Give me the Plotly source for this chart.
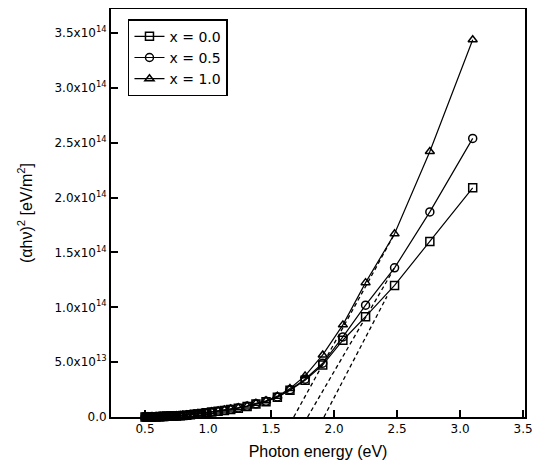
import plotly.graph_objects as go

# Photon energy (eV)
energy = [3.10, 2.76, 2.48, 2.25, 2.07, 1.91, 1.77, 1.65, 1.55, 1.46,
          1.38, 1.31, 1.24, 1.18, 1.13, 1.08, 1.03, 0.99, 0.95, 0.92,
          0.89, 0.86, 0.83, 0.80, 0.78, 0.75, 0.73, 0.71, 0.69, 0.67,
          0.65, 0.64, 0.62, 0.61, 0.59, 0.58, 0.56, 0.55, 0.54, 0.53,
          0.52, 0.51, 0.50]

# (alpha h nu)^2 in units of 1e14 eV/m^2
y_x00 = [2.09, 1.60, 1.20, 0.915, 0.70, 0.475, 0.335, 0.245, 0.18, 0.14,
         0.118, 0.095, 0.080, 0.068, 0.060, 0.052, 0.045, 0.038, 0.032, 0.028,
         0.024, 0.020, 0.017, 0.014, 0.012, 0.010, 0.009, 0.008, 0.007, 0.006,
         0.005, 0.004, 0.004, 0.003, 0.003, 0.002, 0.002, 0.002, 0.001, 0.001,
         0.001, 0.001, 0.000]
y_x05 = [2.54, 1.87, 1.36, 1.02, 0.73, 0.49, 0.345, 0.248, 0.183, 0.143,
         0.120, 0.097, 0.082, 0.070, 0.062, 0.053, 0.046, 0.039, 0.033, 0.028,
         0.024, 0.020, 0.017, 0.014, 0.012, 0.010, 0.009, 0.008, 0.007, 0.006,
         0.005, 0.004, 0.004, 0.003, 0.003, 0.002, 0.002, 0.002, 0.001, 0.001,
         0.001, 0.001, 0.000]
y_x10 = [3.44, 2.42, 1.67, 1.225, 0.84, 0.566, 0.375, 0.26, 0.19, 0.148,
         0.125, 0.100, 0.085, 0.073, 0.064, 0.055, 0.047, 0.040, 0.034, 0.029,
         0.025, 0.021, 0.018, 0.015, 0.013, 0.011, 0.009, 0.008, 0.007, 0.006,
         0.005, 0.004, 0.004, 0.003, 0.003, 0.002, 0.002, 0.002, 0.001, 0.001,
         0.001, 0.001, 0.000]

series_names = ["x = 0.0", "x = 0.5", "x = 1.0"]
series_symbols = ["square-open", "circle-open", "triangle-up-open"]

# Linear extrapolation (tangent) lines
tan_x10_x = [1.68, 2.48]
tan_x10_y = [0.0, 1.67]
tan_x05_x = [1.79, 2.48]
tan_x05_y = [0.0, 1.36]
tan_x00_x = [1.92, 2.42]
tan_x00_y = [0.0, 1.10]

y_tickvals = [0, 0.5, 1.0, 1.5, 2.0, 2.5, 3.0, 3.5]
y_ticktext = ["0.0", "5.0x10<sup>13</sup>", "1.0x10<sup>14</sup>", "1.5x10<sup>14</sup>",
              "2.0x10<sup>14</sup>", "2.5x10<sup>14</sup>", "3.0x10<sup>14</sup>",
              "3.5x10<sup>14</sup>"]
x_tickvals = [0.5, 1.0, 1.5, 2.0, 2.5, 3.0, 3.5]
x_ticktext = ["0.5", "1.0", "1.5", "2.0", "2.5", "3.0", "3.5"]

fig = go.Figure()

for tx, ty in [(tan_x10_x, tan_x10_y), (tan_x05_x, tan_x05_y), (tan_x00_x, tan_x00_y)]:
    fig.add_trace(go.Scatter(x=tx, y=ty, mode="lines", showlegend=False,
                             line=dict(color="black", width=1.3, dash="4px,3px"),
                             hoverinfo="skip"))

for name, sym, ys in zip(series_names, series_symbols, [y_x00, y_x05, y_x10]):
    fig.add_trace(go.Scatter(
        x=energy, y=ys, mode="lines+markers", name=name,
        line=dict(color="black", width=1.2),
        marker=dict(symbol=sym, size=8, color="black", line=dict(width=1.5, color="black")),
        cliponaxis=False,
    ))

title_font = "Liberation Sans, Arial, sans-serif"
tick_font = "DejaVu Sans, sans-serif"

# The page body has an 8px default margin, so the figure is sized to fit the window.
fig.update_layout(
    width=525, height=452,
    margin=dict(l=103, r=8, t=1, b=43),
    paper_bgcolor="white", plot_bgcolor="white",
    font=dict(family=title_font, color="black", size=13),
    showlegend=True,
    legend=dict(x=0.041, y=0.975, xanchor="left", yanchor="top",
                bordercolor="black", borderwidth=1.5, bgcolor="white",
                font=dict(size=14, family=tick_font, color="black"),
                tracegroupgap=0, itemwidth=30),
    xaxis=dict(range=[0.23, 3.515], tickvals=x_tickvals, ticktext=x_ticktext,
               ticks="inside", ticklen=7, tickwidth=1.5, tickcolor="black",
               showline=True, linecolor="black", linewidth=2, mirror=True,
               showgrid=False, zeroline=False, automargin=False,
               tickfont=dict(size=12, family=tick_font, color="black"),
               title=dict(text="Photon energy (eV)", font=dict(size=16, family=title_font),
                          standoff=15)),
    yaxis=dict(range=[0, 3.72], tickvals=y_tickvals, ticktext=y_ticktext,
               ticks="inside", ticklen=7, tickwidth=1.5, tickcolor="black",
               showline=True, linecolor="black", linewidth=2, mirror=True,
               showgrid=False, zeroline=False, automargin=False,
               tickfont=dict(size=12, family=tick_font, color="black"),
               title=dict(text="(αhν)<sup>2</sup> [eV/m<sup>2</sup>]",
                          font=dict(size=16, family=title_font), standoff=18)),
)

fig.write_html("out.html")
